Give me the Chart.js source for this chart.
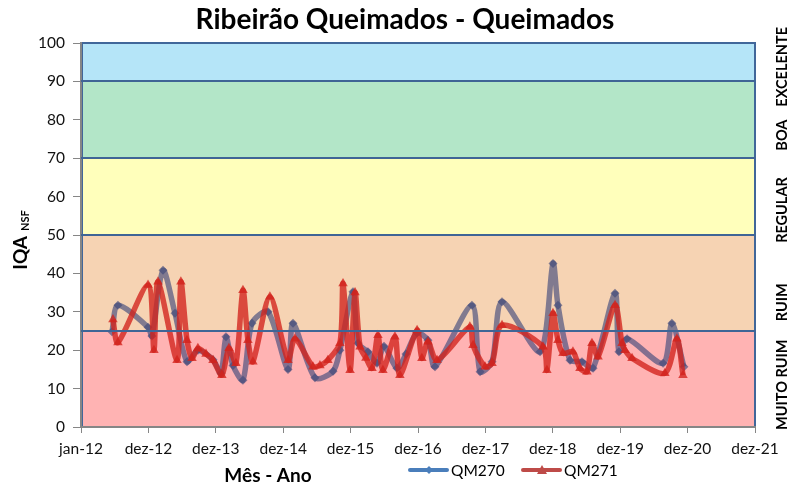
<!DOCTYPE html>
<html><head><meta charset="utf-8">
<script src="https://cdn.jsdelivr.net/npm/chart.js@4"></script>
<style>html,body{margin:0;padding:0;background:#fff}#wrap{width:790px;height:487px;position:relative}</style>
</head><body><div id="wrap"><canvas id="c" width="790" height="487"></canvas></div>
<script>
const chartTitle = 'Ribeirão Queimados - Queimados';
const xTitle = 'Mês - Ano';
const tickLabels = ['jan-12','dez-12','dez-13','dez-14','dez-15','dez-16','dez-17','dez-18','dez-19','dez-20','dez-21'];
const seriesNames = ['QM270','QM271'];

const qm270Dates = ['2012-06-17','2012-07-19','2012-12-29','2013-01-19','2013-03-20','2013-05-24','2013-07-28','2013-09-25','2013-12-16','2014-01-28','2014-02-24','2014-04-03','2014-05-27','2014-07-15','2014-10-10','2015-01-26','2015-02-22','2015-06-21','2015-09-27','2015-11-03','2016-01-13','2016-02-09','2016-04-03','2016-05-22','2016-06-29','2016-09-07','2016-10-26','2016-12-25','2017-02-22','2017-04-01','2017-10-18','2017-12-01','2018-02-04','2018-03-30','2018-10-22','2018-12-31','2019-01-27','2019-04-02','2019-06-06','2019-08-05','2019-12-02','2019-12-23','2020-02-05','2020-08-18','2020-10-05','2020-12-09'];
const qm270Values = [24.8,31.7,26,23.7,40.8,29.6,17,20,17.5,14,23.5,16,12.2,27,30,15,27,12.8,14.5,20,35.2,21.8,19.6,16.6,21,15.3,19,24.5,22.6,15.7,31.7,14.4,17,32.6,19.6,42.6,31.7,17.4,17,15.3,34.8,19.6,23,16.6,27,15.7];

const qm271Dates = ['2012-06-22','2012-07-19','2012-12-29','2013-01-30','2013-02-21','2013-06-04','2013-06-25','2013-07-28','2013-08-24','2013-09-25','2013-11-08','2013-12-16','2014-02-02','2014-03-12','2014-04-19','2014-05-27','2014-06-23','2014-07-20','2014-10-20','2015-01-26','2015-03-05','2015-06-10','2015-07-18','2015-08-30','2015-11-03','2015-11-20','2015-12-28','2016-01-24','2016-02-20','2016-03-23','2016-04-25','2016-05-27','2016-06-23','2016-08-27','2016-09-23','2016-12-25','2017-01-20','2017-02-22','2017-04-12','2017-10-07','2017-10-24','2017-12-28','2018-02-04','2018-03-30','2018-11-07','2018-11-28','2018-12-31','2019-01-27','2019-02-23','2019-04-18','2019-05-26','2019-07-03','2019-07-30','2019-09-01','2019-12-02','2020-01-09','2020-01-25','2020-03-03','2020-08-28','2020-11-01','2020-12-04'];
const qm271Values = [28,22,37,20,37.8,17.4,37.8,22.6,17.9,20.5,19,17.4,13.5,20.5,16.6,35.6,22.6,17,33.9,17.4,23,15.7,16,17.4,21.8,37.4,14.8,35,20.9,18,15.3,23.9,14.8,23.5,13.5,25.2,17.9,22.2,17.4,26.1,21.3,15.7,16.6,26.5,20.9,14.8,29.6,22.6,19.2,19.6,15.3,14.4,21.8,18.3,31.7,21.8,20,17.9,14,23,13.5];

const bandLimits = [0,25,50,70,90,100];
const bandNames = ['MUITO RUIM','RUIM','REGULAR','BOA','EXCELENTE'];

const axisStart = Date.UTC(2012,0,1);
function toDays(s){const p=s.split('-').map(Number);return (Date.UTC(p[0],p[1]-1,p[2])-axisStart)/86400000;}
function pts(dates,vals){return dates.map((d,i)=>({x:toDays(d),y:vals[i]}));}

const FONT='Lato';
const bandColors=['#FFB3B3','#F6D3B3','#FFFFBB','#B3E6C8','#B5E5F8'];
const bandLabelAt=[11,32.5,56.5,76,93.8];

const bandsPlugin={
  id:'bands',
  beforeDraw(chart){
    const {ctx,chartArea:a,scales:{y}}=chart;
    ctx.save();
    for(let i=0;i<bandNames.length;i++){
      const top=y.getPixelForValue(bandLimits[i+1]), bot=y.getPixelForValue(bandLimits[i]);
      ctx.fillStyle=bandColors[i];
      ctx.fillRect(a.left,top,a.right-a.left,bot-top);
    }
    ctx.strokeStyle='#41679A';ctx.lineWidth=2;
    ctx.strokeRect(a.left+1,a.top,a.right-a.left-1,a.bottom-a.top);
    ctx.restore();
  },
  afterDatasetsDraw(chart){
    const {ctx,chartArea:a,scales:{y}}=chart;
    ctx.save();
    ctx.strokeStyle='#3F6596';ctx.lineWidth=2;
    for(let i=1;i<bandLimits.length-1;i++){
      const py=Math.round(y.getPixelForValue(bandLimits[i]));
      ctx.beginPath();ctx.moveTo(a.left,py);ctx.lineTo(a.right,py);ctx.stroke();
    }
    ctx.restore();
  },
  afterDraw(chart){
    const {ctx,chartArea:a,scales:{y}}=chart;
    ctx.save();
    ctx.fillStyle='#000';
    ctx.font='bold 28px '+FONT;ctx.textAlign='center';ctx.textBaseline='middle';
    ctx.fillText(chartTitle,405,20);
    ctx.font='bold 19px '+FONT;
    ctx.fillText(xTitle,268,476);
    ctx.save();ctx.translate(21,240);ctx.rotate(-Math.PI/2);
    ctx.textAlign='left';ctx.textBaseline='middle';
    ctx.font='bold 19px '+FONT;
    const w1=ctx.measureText('IQA').width;
    ctx.font='bold 11px '+FONT;
    const w2=ctx.measureText('NSF').width;
    const start=-(w1+5+w2)/2;
    ctx.font='bold 19px '+FONT;ctx.fillText('IQA',start,0);
    ctx.font='bold 11px '+FONT;ctx.fillText('NSF',start+w1+5,4);
    ctx.restore();
    ctx.font='bold 14.5px '+FONT;
    for(let i=0;i<bandNames.length;i++){
      ctx.save();ctx.translate(782,y.getPixelForValue(bandLabelAt[i]));ctx.rotate(-Math.PI/2);
      ctx.textAlign='center';ctx.textBaseline='middle';ctx.fillText(bandNames[i],0,0);
      ctx.restore();
    }
    const items=[{x:410,c:'#4A7EBB',m:'diamond'},{x:523,c:'#BE4B48',m:'tri'}];
    ctx.font='15.5px '+FONT;ctx.textAlign='left';ctx.textBaseline='middle';
    items.forEach((it,i)=>{
      const ly=470;
      ctx.strokeStyle=it.c;ctx.lineWidth=4;ctx.lineCap='round';
      ctx.beginPath();ctx.moveTo(it.x,ly);ctx.lineTo(it.x+37,ly);ctx.stroke();
      ctx.fillStyle=it.c;const cx=it.x+19;
      ctx.beginPath();
      if(it.m==='diamond'){ctx.moveTo(cx,ly-4);ctx.lineTo(cx+4,ly);ctx.lineTo(cx,ly+4);ctx.lineTo(cx-4,ly);}
      else{ctx.moveTo(cx,ly-5);ctx.lineTo(cx+5,ly+4);ctx.lineTo(cx-5,ly+4);}
      ctx.closePath();ctx.fill();
      ctx.fillStyle='#000';ctx.fillText(seriesNames[i],it.x+41,ly+1);
    });
    ctx.restore();
  }
};

new Chart(document.getElementById('c'),{
  type:'line',
  data:{datasets:[
    {label:seriesNames[0],data:pts(qm270Dates,qm270Values),order:1,
     borderColor:'rgba(62,72,122,0.64)',backgroundColor:'rgba(62,72,122,0.64)',borderWidth:5.5,
     pointStyle:'rectRot',pointRadius:4.5,pointBorderWidth:0,tension:0.28},
    {label:seriesNames[1],data:pts(qm271Dates,qm271Values),order:0,
     borderColor:'rgba(210,35,28,0.78)',backgroundColor:'rgba(210,35,28,0.78)',borderWidth:5.5,
     pointStyle:'triangle',pointRadius:5.5,pointBorderWidth:0,tension:0.28}
  ]},
  options:{
    responsive:false,animation:false,devicePixelRatio:1,
    layout:{padding:{left:0,right:35,top:43,bottom:0}},
    plugins:{legend:{display:false},tooltip:{enabled:false},title:{display:false}},
    scales:{
      x:{type:'linear',min:0,max:3650,
         afterBuildTicks(s){s.ticks=tickLabels.map((_,i)=>({value:i*365}));},
         afterFit(s){s.height=60;},
         ticks:{callback:(v)=>tickLabels[Math.round(v/365)],font:{family:FONT,size:15.5},color:'#111',padding:7,maxRotation:0,autoSkip:false},
         grid:{drawOnChartArea:false,tickLength:6,color:'#868686'},
         border:{display:true,color:'#868686',width:2}},
      y:{min:0,max:100,
         ticks:{stepSize:10,font:{family:FONT,size:15.5},color:'#111',padding:8},
         afterFit(s){s.width=81;},
         grid:{drawOnChartArea:false,tickLength:8,color:'#868686'},
         border:{display:true,color:'#868686',width:2}}
    }
  },
  plugins:[bandsPlugin]
});
</script></body></html>
